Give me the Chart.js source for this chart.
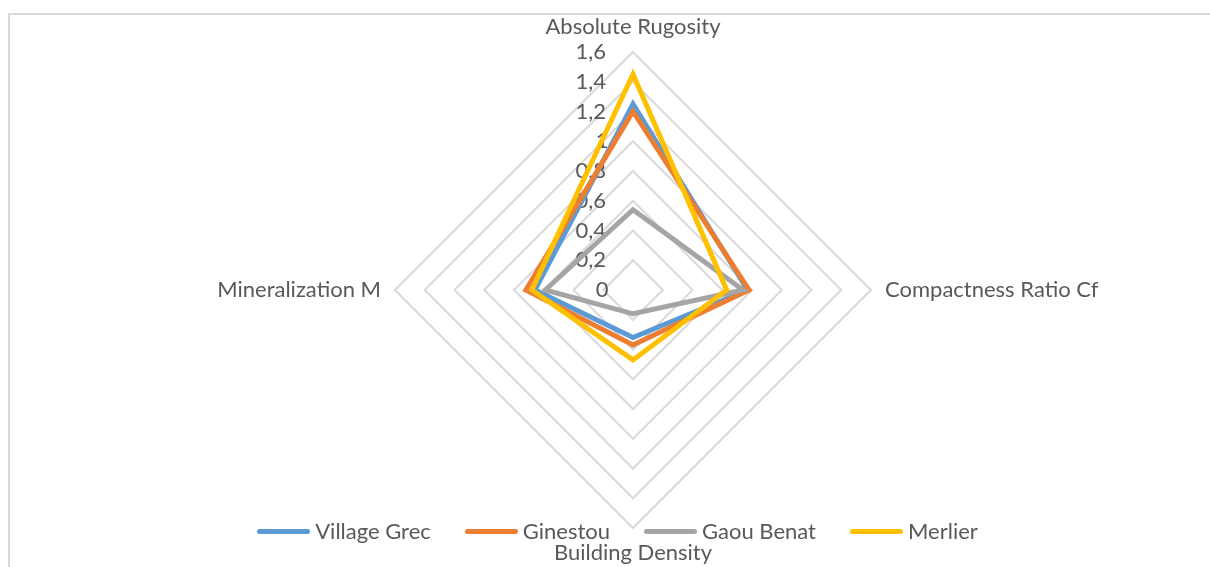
<!DOCTYPE html>
<html>
<head>
<meta charset="utf-8">
<title>Radar</title>
<script src="https://cdn.jsdelivr.net/npm/chart.js@4.4.1/dist/chart.umd.min.js"></script>
<style>
  body { margin: 0; background: #fff; overflow: hidden; }
  .frame { position: absolute; left: 8px; top: 13px; width: 1400px; height: 800px; border: 2px solid #d9d9d9; }
  .wrap { position: absolute; left: 0; top: 0; width: 1210px; height: 567px; }
  .legend { position: absolute; left: 0; top: 518px; width: 1235px; display: flex; justify-content: center;
    font-family: Lato, sans-serif; font-size: 22px; line-height: 26px; color: #595959; }
  .legend-item { display: flex; align-items: center; margin: 0 17px; }
  .legend-line { width: 53px; height: 5px; border-radius: 3px; margin-right: 5px; }
</style>
</head>
<body>
<div class="frame"></div>
<div class="wrap"><canvas id="myChart" width="1210" height="567"></canvas></div>
<div class="legend js-legend"></div>
<script>
const axisLabels = ['Absolute Rugosity', 'Compactness Ratio Cf', 'Building Density', 'Mineralization M'];
const seriesNames = ['Village Grec', 'Ginestou', 'Gaou Benat', 'Merlier'];
const villageGrec = [1.25, 0.77, 0.32, 0.66];
const ginestou = [1.2, 0.78, 0.37, 0.72];
const gaouBenat = [0.54, 0.74, 0.16, 0.59];
const merlier = [1.45, 0.63, 0.47, 0.68];
const seriesColors = ['#5B9BD5', '#ED7D31', '#A5A5A5', '#FFC000'];
const tickMax = 1.6;
const tickStep = 0.2;

const textColor = '#595959';
const fontSize = 22;
Chart.defaults.font.family = 'Lato, sans-serif';
Chart.defaults.color = textColor;

const makeDataset = function (name, values, i) {
  return {
    label: name,
    data: values,
    borderColor: seriesColors[i],
    backgroundColor: seriesColors[i],
    borderWidth: 5,
    fill: false,
    pointRadius: 0,
    pointHoverRadius: 0,
    order: 4 - i, // excel draws the last series on top
  };
};

const allSeries = [villageGrec, ginestou, gaouBenat, merlier];
const datasets = allSeries.map((values, i) => makeDataset(seriesNames[i], values, i));

// tick labels sit left of the vertical axis; chart.js centers them, so pad with spaces
const measureCtx = document.createElement('canvas').getContext('2d');
measureCtx.font = fontSize + 'px Lato, sans-serif';
const spaceWidth = measureCtx.measureText('          ').width / 10;
const tickText = function (value) {
  const txt = Math.abs(value) < 1e-6 ? '0' : (Math.round(value * 10) / 10).toLocaleString('fr-FR');
  const w = measureCtx.measureText(txt).width;
  const n = Math.max(0, Math.round((w + 52) / spaceWidth));
  return txt + ' '.repeat(n);
};

const ctx = document.getElementById('myChart').getContext('2d');
const radarChart = new Chart(ctx, {
  type: 'radar',
  data: {
    labels: axisLabels,
    datasets: datasets,
  },
  options: {
    responsive: false,
    animation: false,
    layout: {
      padding: { top: 16, bottom: 3, left: 57, right: 0 },
    },
    elements: {
      line: { tension: 0, borderJoinStyle: 'miter' },
    },
    plugins: {
      legend: { display: false },
      tooltip: { enabled: false },
    },
    scales: {
      r: {
        min: -1e-9, // so the "0" tick label is drawn at the center
        max: tickMax,
        angleLines: { display: false },
        grid: {
          circular: false,
          lineWidth: 2,
          color: (c) => (c.index === 0 ? 'rgba(0,0,0,0)' : '#d9d9d9'),
        },
        ticks: {
          stepSize: tickStep,
          showLabelBackdrop: false,
          backdropPadding: 0,
          color: textColor,
          font: { size: fontSize },
          callback: tickText,
        },
        pointLabels: {
          color: textColor,
          padding: 3,
          font: { size: fontSize, lineHeight: 1 },
        },
      },
    },
  },
});

// html legend built from the chart datasets
const legendBox = document.querySelector('.js-legend');
let legendHtml = '';
radarChart.data.datasets.forEach(function (ds) {
  legendHtml += `<div class="legend-item"><span class="legend-line" style="background:${ds.borderColor}"></span>${ds.label}</div>`;
});
legendBox.innerHTML = legendHtml;
</script>
</body>
</html>
